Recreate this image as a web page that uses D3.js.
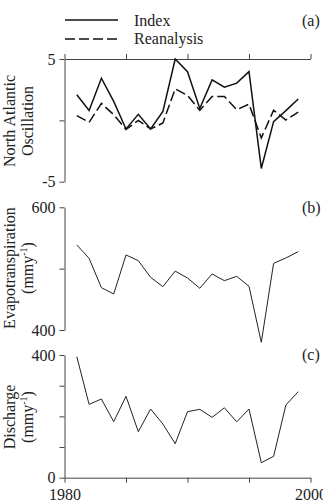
<!DOCTYPE html>
<html><head><meta charset="utf-8">
<script src="https://cdn.jsdelivr.net/npm/d3@7"></script>
<style>body{margin:0;background:#fff}svg{display:block}text{font-family:"Liberation Serif","Times New Roman",serif;fill:#222}</style>
</head><body><svg id="c" width="323" height="504"></svg>
<script>
const years = [1981,1982,1983,1984,1985,1986,1987,1988,1989,1990,1991,1992,1993,1994,1995,1996,1997,1998,1999];
const naoIndex = [2.08,0.81,3.43,1.54,-0.70,0.49,-0.70,0.73,5.0,3.97,0.97,3.30,2.70,3.03,3.97,-3.92,-0.10,0.79,1.74];
const naoReanalysis = [0.38,-0.16,1.38,0.46,-0.75,0.0,-0.70,-0.22,2.57,2.03,0.81,1.95,1.95,0.86,1.32,-1.43,0.82,0.03,0.68];
const evapo = [538.6,516.8,469,458.7,522.3,513,485.9,470.7,496,484.8,468,491.3,480.4,487.5,471.2,380,508.7,517.4,527.7];
const discharge = [394.6,239,256.5,182.6,265.2,150,223.9,175,110.9,215.2,222.8,196.7,228,182,223.9,48.9,69.6,237,280.4];
const xTicks = [1980,1985,1990,1995,2000];

const svg = d3.select("#c");
const x = d3.scaleLinear().domain([1980,2000]).range([64.5,310.5]);
const yA = d3.scaleLinear().domain([-5,5]).range([181.7,59]);
const yB = d3.scaleLinear().domain([400,600]).range([330,207.3]);
const yC = d3.scaleLinear().domain([0,400]).range([477.7,355]);
const axisColor = "#444";

function styleAxis(g){
  g.selectAll("path,line").attr("stroke",axisColor).attr("stroke-width",1);
  g.selectAll("text").attr("font-size",16).attr("font-family","Liberation Serif, serif").attr("fill","#222");
}
function lbl(keep){ return d => keep.includes(d) ? (d<0 ? "-"+Math.abs(d) : String(d)) : ""; }

// Panel (a)
svg.append("g").attr("transform","translate(0,59)")
  .call(d3.axisTop(x).tickValues(xTicks).tickSize(5).tickSizeOuter(0).tickFormat(""))
  .call(styleAxis);
svg.append("g").attr("transform","translate(64.5,0)")
  .call(d3.axisLeft(yA).tickValues([-5,0,5]).tickSize(5).tickSizeOuter(0).tickPadding(4).tickFormat(lbl([-5,5])))
  .call(styleAxis);
const lineA = (vals) => d3.line().x((d,i)=>x(years[i])).y(d=>yA(d))(vals);
svg.append("path").attr("d",lineA(naoIndex)).attr("fill","none").attr("stroke","#111").attr("stroke-width",1.5);
svg.append("path").attr("d",lineA(naoReanalysis)).attr("fill","none").attr("stroke","#111").attr("stroke-width",1.5).attr("stroke-dasharray","10,4");

// legend
svg.append("line").attr("x1",65).attr("x2",118).attr("y1",20).attr("y2",20).attr("stroke","#111").attr("stroke-width",1.5);
svg.append("line").attr("x1",65).attr("x2",118).attr("y1",39).attr("y2",39).attr("stroke","#111").attr("stroke-width",1.5).attr("stroke-dasharray","10,4");
svg.append("text").attr("x",134).attr("y",26).attr("font-size",16).text("Index");
svg.append("text").attr("x",134).attr("y",44).attr("font-size",16).text("Reanalysis");
svg.append("text").attr("x",302).attr("y",26).attr("font-size",16).text("(a)");

// y titles
function ytitle(cx, cy, lines){
  const t = svg.append("text").attr("transform",`translate(${cx},${cy}) rotate(-90)`).attr("text-anchor","middle").attr("font-size",16);
  lines.forEach((ln,i)=>{
    const ts = t.append("tspan").attr("x",0).attr("dy", i===0 ? 0 : 18);
    if (Array.isArray(ln)) {
      ts.text(ln[0]);
      t.append("tspan").attr("font-size",10).attr("dy",-6).text(ln[1]);
      t.append("tspan").attr("dy",6).text(ln[2]);
    } else ts.text(ln);
  });
}
ytitle(15,121,["North Atlantic","Oscillation"]);

// Panel (b)
svg.append("g").attr("transform","translate(64.5,0)")
  .call(d3.axisLeft(yB).tickValues([400,500,600]).tickSize(5).tickSizeOuter(0).tickPadding(4).tickFormat(lbl([400,600])))
  .call(styleAxis);
svg.append("path").attr("d",d3.line().x((d,i)=>x(years[i])).y(d=>yB(d))(evapo)).attr("fill","none").attr("stroke","#222").attr("stroke-width",1);
svg.append("text").attr("x",302).attr("y",213).attr("font-size",16).text("(b)");
ytitle(15,268,["Evapotranspiration",["(mmy","-1",")"]]);

// Panel (c)
svg.append("g").attr("transform","translate(64.5,0)")
  .call(d3.axisLeft(yC).tickValues([0,100,200,300,400]).tickSize(5).tickSizeOuter(0).tickPadding(4).tickFormat(lbl([0,400])))
  .call(styleAxis);
svg.append("g").attr("transform","translate(0,477.7)")
  .call(d3.axisBottom(x).tickValues(xTicks).tickSize(5).tickSizeOuter(0).tickPadding(6).tickFormat(lbl([1980,2000])))
  .call(styleAxis);
svg.append("path").attr("d",d3.line().x((d,i)=>x(years[i])).y(d=>yC(d))(discharge)).attr("fill","none").attr("stroke","#222").attr("stroke-width",1);
svg.append("text").attr("x",302).attr("y",360).attr("font-size",16).text("(c)");
ytitle(15,417,["Discharge",["(mmy","-1",")"]]);
</script></body></html>
